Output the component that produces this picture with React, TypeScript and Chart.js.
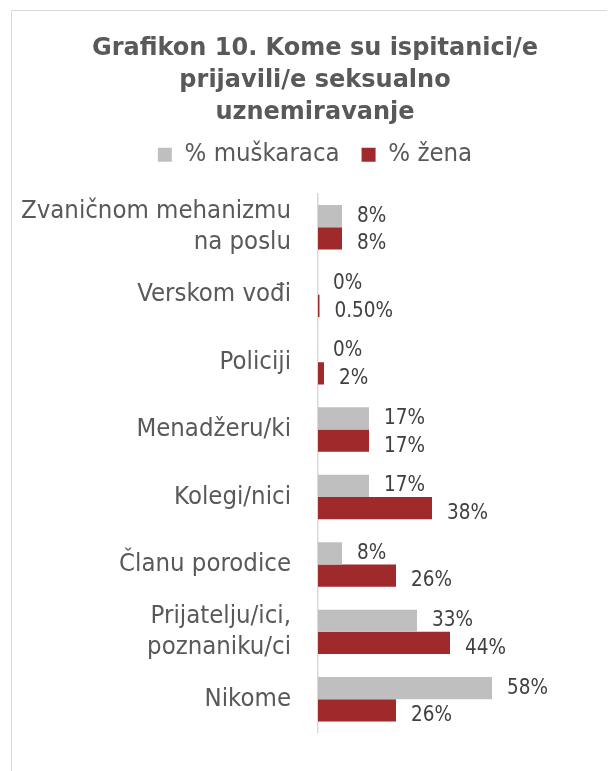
import React, { useEffect, useRef } from "react";
import { Chart, registerables } from "chart.js";

Chart.register(...registerables);

const titleLines = ["Grafikon 10. Kome su ispitanici/e", "prijavili/e seksualno", "uznemiravanje"];
const categories: (string | string[])[] = [
  ["Zvaničnom mehanizmu", "na poslu"],
  "Verskom vođi",
  "Policiji",
  "Menadžeru/ki",
  "Kolegi/nici",
  "Članu porodice",
  ["Prijatelju/ici,", "poznaniku/ci"],
  "Nikome",
];
const seriesNames = ["% muškaraca", "% žena"];
const menValues = [8, 0, 0, 17, 17, 8, 33, 58];
const womenValues = [8, 0.5, 2, 17, 38, 26, 44, 26];

const FONT = "'DejaVu Sans', Verdana, sans-serif";
const FONT_C = "'DejaVu Sans Condensed', 'DejaVu Sans', sans-serif";
const GRAY = "#BFBFBF";
const RED = "#A0292C";

function fmt(v: number): string {
  return Number.isInteger(v) ? `${v}%` : `${v.toFixed(2)}%`;
}

const valueLabels = {
  id: "valueLabels",
  afterDatasetsDraw(chart: any) {
    const ctx = chart.ctx;
    ctx.save();
    ctx.font = `20.5px ${FONT_C}`;
    ctx.fillStyle = "#404040";
    ctx.textAlign = "left";
    ctx.textBaseline = "middle";
    chart.data.datasets.forEach((ds: any, di: number) => {
      const meta = chart.getDatasetMeta(di);
      meta.data.forEach((bar: any, i: number) => {
        const v = ds.data[i] as number;
        ctx.fillText(fmt(v), bar.x + 15, bar.y + (di === 1 ? 5.5 : 0));
      });
    });
    ctx.restore();
  },
};

export default function App() {
  const ref = useRef<HTMLCanvasElement>(null);

  useEffect(() => {
    if (!ref.current) return;
    const chart = new Chart(ref.current, {
      type: "bar",
      data: {
        labels: categories,
        datasets: [
          {
            label: seriesNames[0],
            data: menValues,
            backgroundColor: GRAY,
            borderWidth: 0,
            categoryPercentage: 0.659,
            barPercentage: 1,
          },
          {
            label: seriesNames[1],
            data: womenValues,
            backgroundColor: RED,
            borderWidth: 0,
            categoryPercentage: 0.659,
            barPercentage: 1,
          },
        ],
      },
      options: {
        indexAxis: "y",
        responsive: false,
        animation: false,
        devicePixelRatio: 1,
        layout: { padding: { top: 0, left: 0, right: 0, bottom: 31 } },
        plugins: {
          title: {
            display: true,
            text: titleLines,
            color: "#595959",
            font: { family: FONT, size: 24, weight: "bold", lineHeight: 32 / 24 },
            padding: { top: 21.6, bottom: -8.5 },
          },
          legend: {
            display: true,
            position: "top",
            labels: {
              boxWidth: 14,
              boxHeight: 14,
              color: "#595959",
              font: { family: FONT_C, size: 25.5 },
              padding: 22,
            },
          },
          tooltip: { enabled: false },
        },
        scales: {
          x: {
            position: "top",
            min: 0,
            max: 100,
            display: true,
            ticks: { display: false },
            grid: { display: false, drawTicks: false },
            border: { display: false },
            afterFit: (s: any) => {
              s.height = 16;
            },
          },
          y: {
            ticks: {
              color: "#595959",
              font: { family: FONT_C, size: 25.5, lineHeight: 1.216 },
              padding: 27,
              autoSkip: false,
            },
            grid: { display: false, drawTicks: false },
            border: { display: true, color: "#D9D9D9", width: 1.5 },
            afterFit: (s: any) => {
              s.width = 306;
            },
          },
        },
      },
      plugins: [valueLabels],
    } as any);
    return () => chart.destroy();
  }, []);

  return (
    <div style={{ position: "relative", width: 607, height: 763, overflow: "hidden" }}>
      <div
        style={{
          position: "absolute",
          left: 3,
          top: 2,
          width: 608,
          height: 800,
          border: "1px solid #D9D9D9",
          boxSizing: "border-box",
          background: "#FFFFFF",
        }}
      >
        <canvas ref={ref} width={606} height={780} style={{ display: "block" }} />
      </div>
    </div>
  );
}
